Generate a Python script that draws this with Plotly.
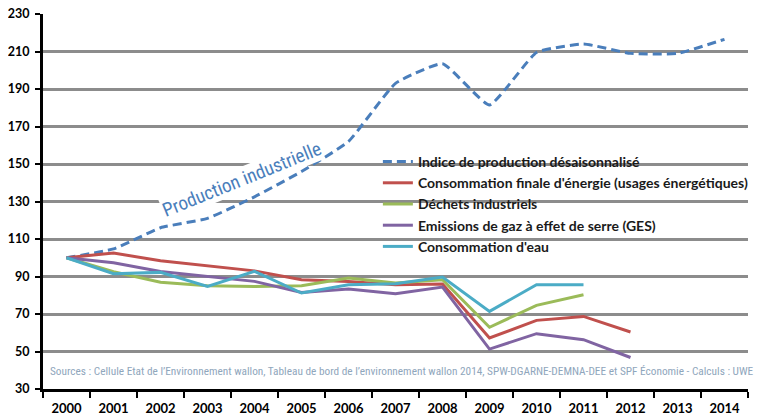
import plotly.graph_objects as go

years = [str(y) for y in range(2000, 2015)]

production = [100, 104.7, 116, 121, 132.5, 146, 162, 193, 203.5, 181.5, 209.5, 214, 209, 209, 216.5]
energie = [100, 102.5, 98.4, 95.5, 93, 88.3, 87.4, 85.6, 86, 57.2, 66.6, 68.7, 60.4]
dechets = [100, 92.5, 86.9, 85.1, 84.7, 85.1, 89.2, 86.5, 88.3, 62.9, 74.6, 80.3]
ges = [100, 97.3, 92.7, 90, 87.4, 81.5, 83.3, 80.8, 84.4, 51.3, 59.5, 56.3, 46.8]
eau = [100, 91.5, 92.2, 84.7, 92.7, 81.2, 85.6, 86.1, 89.7, 71.4, 85.6, 85.6]

names = [
    "Indice de production désaisonnalisé",
    "Consommation finale d'énergie (usages énergétiques)",
    "Déchets industriels",
    "Emissions de gaz à effet de serre (GES)",
    "Consommation d'eau",
]
colors = ["#4A7EBB", "#C0504D", "#9BBB59", "#8064A2", "#4BACC6"]

yticks = list(range(30, 231, 20))

source_text = ("Sources : Cellule Etat de l\u2019Environnement wallon, Tableau de bord de l\u2019environnement "
               "wallon 2014, SPW-DGARNE-DEMNA-DEE et SPF \u00c9conomie - Calculs : UWE")

fig = go.Figure()
fig.add_trace(go.Scatter(x=years, y=production, mode="lines", name=names[0],
                         line=dict(color=colors[0], width=3, dash="9px,5px", shape="spline", smoothing=0.4)))
series = [energie, dechets, ges, eau]
for s, n, c in zip(series, names[1:], colors[1:]):
    fig.add_trace(go.Scatter(x=years[:len(s)], y=s, mode="lines", name=n,
                             line=dict(color=c, width=3)))

narrow = "Roboto Condensed, sans-serif"
xtickfont = dict(family="Lato, sans-serif", size=13, color="black", weight="bold")
ytickfont = dict(family="Lato, sans-serif", size=12.5, color="black", weight="bold")

# the page body has an 8px margin: figure is sized so that it fills the 766x414 window
fig.update_layout(
    width=758, height=406,
    margin=dict(l=34.5, r=17.5, t=6.3, b=24.7),
    paper_bgcolor="white", plot_bgcolor="white",
    showlegend=True,
    legend=dict(x=0.475, y=0.648, xanchor="left", yanchor="top",
                bgcolor="rgba(0,0,0,0)", borderwidth=0,
                font=dict(family="Lato, sans-serif", size=14, color="#1a1a1a", weight="bold"),
                itemwidth=30, tracegroupgap=0),
    xaxis=dict(type="category", range=[-0.5, 14.5], tickson="boundaries",
               ticks="outside", ticklen=6, tickwidth=2, tickcolor="black",
               showline=True, linecolor="black", linewidth=3,
               showgrid=False, ticklabelstandoff=5, automargin=False,
               ticklabeloverflow="allow", tickfont=xtickfont),
    yaxis=dict(range=[30, 230], tickvals=yticks, ticks="outside", ticklen=5, tickwidth=2,
               tickcolor="black", showline=True, linecolor="black", linewidth=3,
               showgrid=True, gridcolor="#8C8C8C", gridwidth=2.5, zeroline=False,
               ticklabelstandoff=3, automargin=False,
               ticklabeloverflow="allow", tickfont=ytickfont),
)

# white background box behind the legend (covers gridlines, not data)
fig.add_shape(type="rect", xref="paper", yref="y", x0=0.442, x1=1.0, y0=104, y1=154,
              fillcolor="white", line=dict(width=0), layer="between")

fig.add_annotation(text="Production industrielle", xref="x", yref="y", x=3.72, y=142,
                   textangle=-22, showarrow=False, bgcolor="white", borderpad=0,
                   font=dict(family=narrow, size=19, color="#4A7EBB"))

fig.add_annotation(text=source_text, xref="paper", yref="y", x=0.0078, y=39.2,
                   xanchor="left", yanchor="middle", showarrow=False,
                   font=dict(family=narrow, size=11.3, color="#8FA6BC"))

fig.write_html("out.html")
